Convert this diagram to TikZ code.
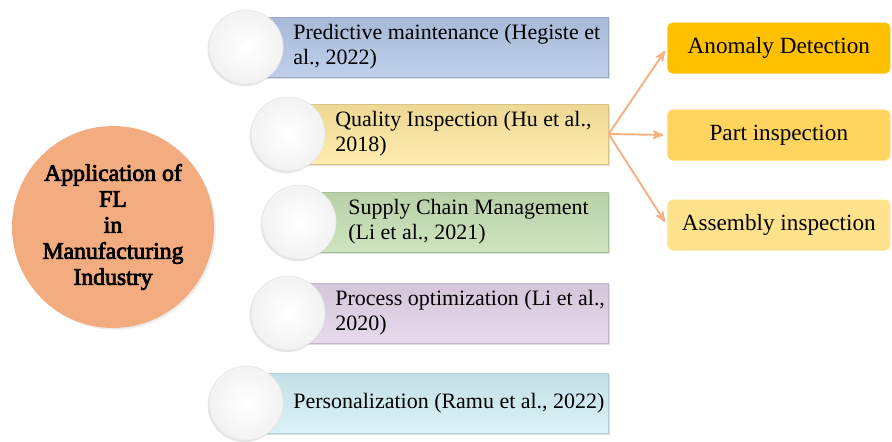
\documentclass[tikz,border=0pt]{standalone}
\usepackage{fontspec}
\setmainfont{Liberation Serif}
\newfontfamily\hubfont{Liberation Serif}[FakeBold=3.2]
\usepackage{xcolor}
\usepackage{tikz}
\usetikzlibrary{shadows}
\usetikzlibrary{arrows}
\definecolor{hubcol}{RGB}{242,172,128}
\definecolor{arrcol}{RGB}{244,177,131}
\definecolor{barblue}{RGB}{180,199,231}
\definecolor{baryellow}{RGB}{255,232,160}
\definecolor{bargreen}{RGB}{197,224,180}
\definecolor{barpurple}{RGB}{228,212,234}
\definecolor{barcyan}{RGB}{210,240,246}
\definecolor{leafa}{RGB}{255,192,0}
\definecolor{leafb}{RGB}{255,213,95}
\definecolor{leafc}{RGB}{255,226,140}
\tikzset{
	hub/.style={circle,fill=hubcol,minimum size=4.04cm,inner sep=0pt,align=center,
		font=\hubfont\fontsize{13.5}{14.8}\selectfont,
		drop shadow={opacity=0.15,shadow xshift=1pt,shadow yshift=-1pt}},
	strip/.style={rectangle,anchor=west,minimum height=1.2cm,inner sep=0pt,
		draw=#1!85!black,line width=0.4pt,top color=#1!93!black,bottom color=#1!85!white,
		drop shadow={opacity=0.25,shadow xshift=1.2pt,shadow yshift=-1.2pt}},
	knob/.style={circle,minimum size=1.48cm,inner sep=0pt,inner color=white,outer color=gray!10,
		draw=gray!18,drop shadow={opacity=0.2,shadow xshift=-0.8pt,shadow yshift=-1.2pt}},
	txt/.style={anchor=west,align=left,inner sep=0pt,font=\fontsize{12.5}{14.2}\selectfont},
	leaf/.style={rectangle,rounded corners=3pt,anchor=west,minimum height=1.02cm,
		minimum width=4.46cm,fill=#1,font=\fontsize{13.2}{15}\selectfont}
}

\begin{document}
\begin{tikzpicture}[x=0.02cm,y=-0.02cm,>=stealth']
	\useasboundingbox (0,0) rectangle (892,441);
	% centre
	\node [hub] (fl) at (113,227) {Application of\\FL\\in\\Manufacturing\\Industry};
	% bars
	\node [strip=barblue,minimum width=7.24cm] (b1) at (246,47) {};
	\node [strip=baryellow,minimum width=6.40cm] (b2) at (288,134) {};
	\node [strip=bargreen,minimum width=6.18cm] (b3) at (299,222) {};
	\node [strip=barpurple,minimum width=6.40cm] (b4) at (288,313) {};
	\node [strip=barcyan,minimum width=7.24cm] (b5) at (246,403) {};
	% circles on the bars
	\node [knob] (c1) at (b1.west) {};
	\node [knob] (c2) at (b2.west) {};
	\node [knob] (c3) at (b3.west) {};
	\node [knob] (c4) at (b4.west) {};
	\node [knob] (c5) at (b5.west) {};
	% labels
	\node [txt] (t1) at (293,47) {Predictive maintenance (Hegiste et\\al., 2022)};
	\node [txt] (t2) at (335,134) {Quality Inspection (Hu et al.,\\2018)};
	\node [txt] (t3) at (348,222) {Supply Chain Management\\(Li et al., 2021)};
	\node [txt] (t4) at (335,313) {Process optimization (Li et al.,\\2020)};
	\node [txt] (t5) at (293,403) {Personalization (Ramu et al., 2022)};
	% inspection types
	\node [leaf=leafa] (a1) at (667,48) {Anomaly Detection};
	\node [leaf=leafb] (a2) at (667,135) {Part inspection};
	\node [leaf=leafc] (a3) at (667,225) {Assembly inspection};
	\foreach \x in {a1,a2,a3}
		\draw [->,arrcol,line width=1.1pt,shorten >=2pt] (b2.east) -- (\x.west);
\end{tikzpicture}
\end{document}
